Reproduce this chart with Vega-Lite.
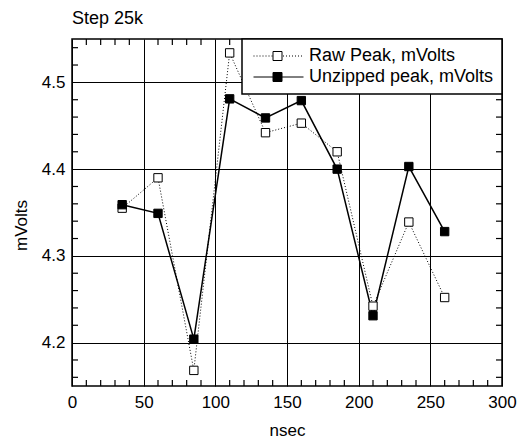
{
  "$schema": "https://vega.github.io/schema/vega-lite/v6.json",
  "width": 430,
  "height": 347,
  "autosize": "none",
  "padding": {"left": 72, "top": 39, "right": 28, "bottom": 55},
  "background": "white",
  "title": {"text": "Step 25k", "anchor": "start", "frame": "group", "font": "Liberation Sans", "fontSize": 18, "fontWeight": "normal", "color": "black", "offset": 10},
  "config": {"view": {"stroke": "black", "strokeWidth": 1.5}, "font": "Liberation Sans"},
  "datasets": {
    "peaks": [
      {"nsec": 35, "series": "Raw Peak, mVolts", "mV": 4.355},
      {"nsec": 60, "series": "Raw Peak, mVolts", "mV": 4.390},
      {"nsec": 85, "series": "Raw Peak, mVolts", "mV": 4.168},
      {"nsec": 110, "series": "Raw Peak, mVolts", "mV": 4.534},
      {"nsec": 135, "series": "Raw Peak, mVolts", "mV": 4.442},
      {"nsec": 160, "series": "Raw Peak, mVolts", "mV": 4.453},
      {"nsec": 185, "series": "Raw Peak, mVolts", "mV": 4.420},
      {"nsec": 210, "series": "Raw Peak, mVolts", "mV": 4.242},
      {"nsec": 235, "series": "Raw Peak, mVolts", "mV": 4.339},
      {"nsec": 260, "series": "Raw Peak, mVolts", "mV": 4.252},
      {"nsec": 35, "series": "Unzipped peak, mVolts", "mV": 4.359},
      {"nsec": 60, "series": "Unzipped peak, mVolts", "mV": 4.349},
      {"nsec": 85, "series": "Unzipped peak, mVolts", "mV": 4.204},
      {"nsec": 110, "series": "Unzipped peak, mVolts", "mV": 4.481},
      {"nsec": 135, "series": "Unzipped peak, mVolts", "mV": 4.459},
      {"nsec": 160, "series": "Unzipped peak, mVolts", "mV": 4.479},
      {"nsec": 185, "series": "Unzipped peak, mVolts", "mV": 4.400},
      {"nsec": 210, "series": "Unzipped peak, mVolts", "mV": 4.231},
      {"nsec": 235, "series": "Unzipped peak, mVolts", "mV": 4.403},
      {"nsec": 260, "series": "Unzipped peak, mVolts", "mV": 4.328}
    ],
    "xminor": [{"nsec": 10}, {"nsec": 20}, {"nsec": 30}, {"nsec": 40}, {"nsec": 60}, {"nsec": 70}, {"nsec": 80}, {"nsec": 90}, {"nsec": 110}, {"nsec": 120}, {"nsec": 130}, {"nsec": 140}, {"nsec": 160}, {"nsec": 170}, {"nsec": 180}, {"nsec": 190}, {"nsec": 210}, {"nsec": 220}, {"nsec": 230}, {"nsec": 240}, {"nsec": 260}, {"nsec": 270}, {"nsec": 280}, {"nsec": 290}],
    "yminor": [{"mV": 4.16}, {"mV": 4.18}, {"mV": 4.22}, {"mV": 4.24}, {"mV": 4.26}, {"mV": 4.28}, {"mV": 4.32}, {"mV": 4.34}, {"mV": 4.36}, {"mV": 4.38}, {"mV": 4.42}, {"mV": 4.44}, {"mV": 4.46}, {"mV": 4.48}, {"mV": 4.52}, {"mV": 4.54}]
  },
  "data": {"name": "peaks"},
  "layer": [
    {
      "data": {"name": "xminor"},
      "mark": {"type": "rule", "color": "black", "strokeWidth": 1.2},
      "encoding": {
        "x": {"field": "nsec", "type": "quantitative"},
        "y": {"datum": 4.15, "type": "quantitative"},
        "y2": {"datum": 4.157}
      }
    },
    {
      "data": {"name": "xminor"},
      "mark": {"type": "rule", "color": "black", "strokeWidth": 1.2},
      "encoding": {
        "x": {"field": "nsec", "type": "quantitative"},
        "y": {"datum": 4.543, "type": "quantitative"},
        "y2": {"datum": 4.55}
      }
    },
    {
      "data": {"name": "yminor"},
      "mark": {"type": "rule", "color": "black", "strokeWidth": 1.2},
      "encoding": {
        "y": {"field": "mV", "type": "quantitative"},
        "x": {"datum": 0, "type": "quantitative"},
        "x2": {"datum": 4.2}
      }
    },
    {
      "data": {"name": "yminor"},
      "mark": {"type": "rule", "color": "black", "strokeWidth": 1.2},
      "encoding": {
        "y": {"field": "mV", "type": "quantitative"},
        "x": {"datum": 295.8, "type": "quantitative"},
        "x2": {"datum": 300}
      }
    },
    {
      "transform": [{"filter": "datum.series === 'Raw Peak, mVolts'"}],
      "mark": {"type": "line", "color": "black", "strokeWidth": 1, "strokeDash": [1, 2]},
      "encoding": {
        "x": {"field": "nsec", "type": "quantitative", "scale": {"domain": [0, 300], "nice": false},
          "axis": {"orient": "bottom", "values": [0, 50, 100, 150, 200, 250, 300],
            "ticks": false, "domain": false,
            "grid": true, "gridColor": "black", "gridWidth": 1, "gridOpacity": 1,
            "labelOverlap": false, "labelFlush": false,
            "labelFont": "Liberation Sans", "labelFontSize": 17, "labelColor": "black", "labelPadding": 8,
            "title": "nsec", "titleFont": "Liberation Sans", "titleFontSize": 17, "titleFontWeight": "normal", "titleColor": "black", "titlePadding": 12}},
        "y": {"field": "mV", "type": "quantitative", "scale": {"domain": [4.15, 4.55], "nice": false, "zero": false},
          "axis": {"orient": "left", "values": [4.2, 4.3, 4.4, 4.5],
            "format": ".1f", "ticks": false, "domain": false,
            "grid": true, "gridColor": "black", "gridWidth": 1, "gridOpacity": 1,
            "labelOverlap": false, "labelFlush": false,
            "labelFont": "Liberation Sans", "labelFontSize": 17, "labelColor": "black", "labelPadding": 7,
            "title": "mVolts", "titleFont": "Liberation Sans", "titleFontSize": 17, "titleFontWeight": "normal", "titleColor": "black", "titleX": -42, "titleY": 186}}
      }
    },
    {
      "transform": [{"filter": "datum.series === 'Unzipped peak, mVolts'"}],
      "mark": {"type": "line", "color": "black", "strokeWidth": 1.5},
      "encoding": {
        "x": {"field": "nsec", "type": "quantitative"},
        "y": {"field": "mV", "type": "quantitative"}
      }
    },
    {
      "mark": {"type": "point", "shape": "square", "filled": true, "size": 70, "stroke": "black", "strokeWidth": 1, "opacity": 1},
      "encoding": {
        "x": {"field": "nsec", "type": "quantitative"},
        "y": {"field": "mV", "type": "quantitative"},
        "fill": {"field": "series", "type": "nominal", "scale": {"domain": ["Raw Peak, mVolts", "Unzipped peak, mVolts"], "range": ["white", "black"]},
          "legend": {"title": null, "orient": "top-right", "offset": 0, "strokeColor": "black", "fillColor": "white", "padding": 8,
            "labelFont": "Liberation Sans", "labelFontSize": 18, "labelColor": "black", "labelOffset": 41, "labelLimit": 400, "rowPadding": 3,
            "symbolSize": 100, "symbolStrokeWidth": 1, "symbolStrokeColor": "black", "symbolOpacity": 1,
            "encode": {
              "legend": {"update": {"strokeWidth": {"value": 1.5}}},
              "symbols": {"update": {
                "shape": {"signal": "datum.value === 'Raw Peak, mVolts' ? 'M-1.1,0H-0.9M-0.5,0H-0.3M0.1,0H0.3M0.7,0H0.9M1.3,0H1.5M1.9,0H2.1M2.5,0H2.7M4.8,0H5M5.4,0H5.6M6,0H6.2M6.6,0H6.8M7.2,0H7.4M7.8,0H8M8.4,0H8.6M2.8,-0.9H4.6V0.9H2.8Z' : 'M-1.1,0H2.8M4.6,0H8.9M2.8,-0.9H4.6V0.9H2.8Z'"},
                "stroke": {"value": "black"}, "strokeWidth": {"value": 1}}}
            }}}
      }
    }
  ]
}
